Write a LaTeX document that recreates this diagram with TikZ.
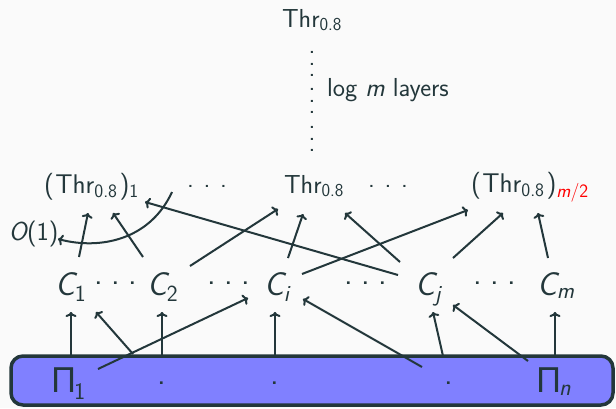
\documentclass[tikz,border=0pt]{standalone}
\usepackage{fontspec}
\usetikzlibrary{arrows.meta}
\newfontfamily\pifont{TeX Gyre Heros}
\definecolor{fg}{HTML}{23373B}
\definecolor{bgc}{HTML}{FAFAFA}
\definecolor{boxc}{HTML}{8080FF}
\newcommand\fsz[1]{\fontsize{#1}{#1}\selectfont\sffamily}
\newcommand\sPi{{\pifont Π}}
\newcommand\sub[1]{\textsubscript{#1}}
\newcommand\vdotscol{\vbox{\baselineskip=11.5pt\lineskiplimit=-20pt
  \hbox{.}\hbox{.}\hbox{.}\vskip2.5pt\hbox{.}\hbox{.}\hbox{.}\vskip3.5pt\hbox{.}\hbox{.}\hbox{.}}}
\newcommand\hdotsg[1]{\makebox[#1]{.}\makebox[#1]{.}\makebox[#1]{.}}
\begin{document}
\begin{tikzpicture}[x=1pt,y=-1pt,line width=2pt,color=fg,text=fg,
  arr/.style={-{Computer Modern Rightarrow[length=5pt,width=11pt]}},
  lbl/.style={inner sep=0pt,anchor=base west},
  big/.style={lbl,font=\fsz{33}},
  mid/.style={lbl,font=\fsz{26}},
  midp/.style={lbl,font=\fsz{27}},
  dotnode/.style={inner sep=0pt,anchor=base},
  basebox/.style={draw=fg,fill=boxc,line width=3.5pt,rounded corners=12pt,
    minimum width=602pt,minimum height=49pt,inner sep=0pt}]
\fill[bgc] (0,0) rectangle (616,408);
\useasboundingbox (0,0) rectangle (616,408);
% base box
\node[basebox] (box) at (312,380.5) {};
\node[lbl,font=\fsz{34}] (pi1) at (52,392) {\sPi\sub{1}};
\node[lbl,font=\fsz{34}] (pin) at (537,392) {\sPi\sub{\slshape n}};
\node[dotnode,font=\fsz{33}] (pd1) at (162,384.7) {.};
\node[dotnode,font=\fsz{33}] (pd2) at (275,384.7) {.};
\node[dotnode,font=\fsz{33}] (pd3) at (449,384.7) {.};
% C row
\node[big] (c1) at (54,295) {{\slshape C}\sub{1}};
\node[big] (c2) at (146,295) {{\slshape C}\sub{2}};
\node[big] (ci) at (263,295) {{\slshape C}\sub{\slshape i}};
\node[big] (cj) at (414,295) {{\slshape C}\sub{\slshape j}};
\node[big] (cm) at (536,295) {{\slshape C}\sub{\slshape m}};
\node[dotnode,font=\fsz{33}] (cd1) at (116,284.5) {\hdotsg{17pt}};
\node[dotnode,font=\fsz{33}] (cd2) at (229,284.5) {\hdotsg{17pt}};
\node[dotnode,font=\fsz{33}] (cd3) at (366,284.5) {\hdotsg{17pt}};
\node[dotnode,font=\fsz{33}] (cd4) at (495,284.5) {\hdotsg{17pt}};
% threshold row
\node[midp] (thr1) at (43,193) {(\kern1.5pt Thr\sub{0.8}\kern2pt)\sub{1}};
\node[mid] (thrmid) at (283,193) {Thr\sub{0.8}};
\node[midp] (thrm) at (470,192) {(\kern1.5pt Thr\sub{0.8}\kern2pt)\sub{\color{red}{\slshape m}/2}};
\node[dotnode,font=\fsz{26}] (td1) at (207,187.4) {\hdotsg{16.5pt}};
\node[dotnode,font=\fsz{26}] (td2) at (388,187.4) {\hdotsg{16.5pt}};
\node[mid] (o1) at (8,240) {{\slshape O}(1)};
% top
\node[mid] (thrtop) at (281,27) {Thr\sub{0.8}};
\node[inner sep=0pt,font=\fsz{26}] (vd) at (312,101.5) {\vdotscol};
\node[mid] (layers) at (326,96) {log {\slshape m} layers};
% connector end points
\coordinate (a1s) at (71,356);  \coordinate (a1e) at (71,312);
\coordinate (a2s) at (133,354); \coordinate (a2e) at (96,312);
\coordinate (a3s) at (162,356); \coordinate (a3e) at (162,312);
\coordinate (a4s) at (98,369);  \coordinate (a4e) at (248,298);
\coordinate (a5s) at (275,356); \coordinate (a5e) at (275,312);
\coordinate (a6s) at (422,367); \coordinate (a6e) at (303,299);
\coordinate (a7s) at (443,356); \coordinate (a7e) at (433,312);
\coordinate (a8s) at (528,361); \coordinate (a8e) at (453,305);
\coordinate (a9s) at (555,356); \coordinate (a9e) at (555,312);
\coordinate (b1s) at (79,257);  \coordinate (b1e) at (88,213);
\coordinate (b2s) at (143,257); \coordinate (b2e) at (113,213);
\coordinate (b3s) at (190,266); \coordinate (b3e) at (278,209);
\coordinate (b4s) at (288,258); \coordinate (b4e) at (303,214);
\coordinate (b5s) at (302,274); \coordinate (b5e) at (468,210);
\coordinate (b6s) at (398,275); \coordinate (b6e) at (145,202);
\coordinate (b7s) at (400,262); \coordinate (b7e) at (345,213);
\coordinate (b8s) at (453,258); \coordinate (b8e) at (503,213);
\coordinate (b9s) at (548,258); \coordinate (b9e) at (538,213);
\coordinate (os) at (172,192);  \coordinate (oe) at (58,239);
% connectors
\foreach \n in {a1,a2,a3,a4,a5,a6,a7,a8,a9,b1,b2,b3,b4,b5,b6,b7,b8,b9}
  \draw[arr] (\n s) -- (\n e);
\draw[arr] (os) .. controls (150,240) and (100,250) .. (oe);
\end{tikzpicture}
\end{document}
